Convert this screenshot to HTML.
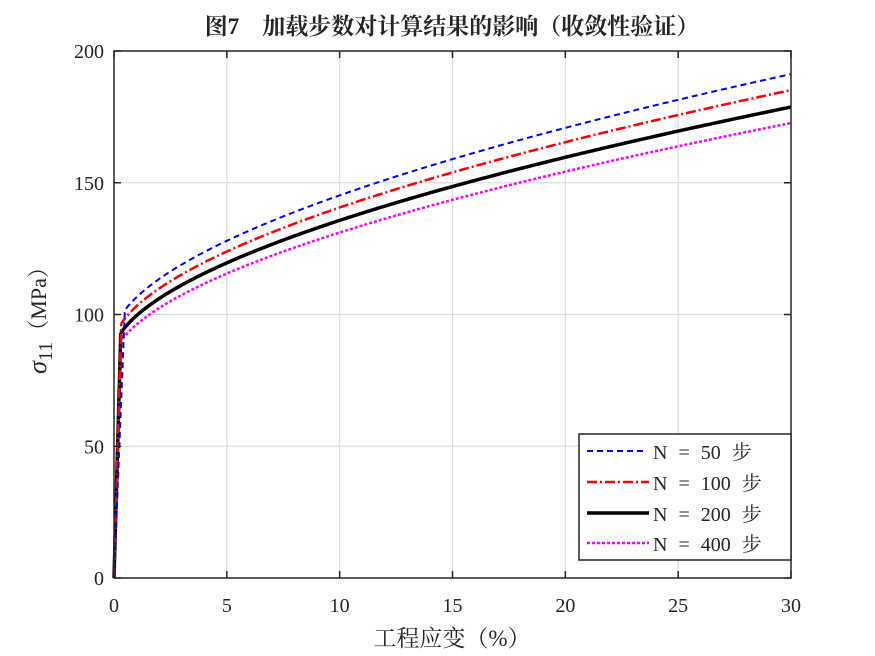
<!DOCTYPE html>
<html><head><meta charset="utf-8"><style>
html,body{margin:0;padding:0;background:#fff;}
svg{display:block;}
text{font-family:"Liberation Serif","Noto Serif CJK SC",serif;fill:#262626;}
</style></head><body>
<svg id="s" width="875" height="656" xmlns="http://www.w3.org/2000/svg">
<rect width="875" height="656" fill="#fff"/>
<g id="grid" stroke="#dcdcdc" stroke-width="1.2"></g>
<g id="curves" fill="none"></g>
<rect x="114" y="51" width="677" height="527" fill="none" stroke="#262626" stroke-width="1.5"/>
<g id="ticks" stroke="#262626" stroke-width="1.5"></g>
<g id="labels" font-size="20"></g>
<text x="452" y="34" text-anchor="middle" font-size="23" font-weight="bold" fill="#000">图7　加载步数对计算结果的影响（收敛性验证）</text>
<text x="452" y="646" text-anchor="middle" font-size="23" fill="#000">工程应变（%）</text>
<text transform="translate(46,315) rotate(-90)" text-anchor="middle" font-size="22" fill="#000"><tspan font-style="italic" font-size="26">σ</tspan><tspan font-size="20" dy="6">11</tspan><tspan dy="-6">（MPa）</tspan></text>
<g>
<rect x="579" y="434" width="212" height="126" fill="#fff" stroke="#262626" stroke-width="1.5"/>
<line x1="587" y1="451" x2="643" y2="451" stroke="#0000ff" stroke-width="2" stroke-dasharray="6,4"/>
<line x1="587" y1="482" x2="649" y2="482" stroke="#ff0000" stroke-width="2.5" stroke-dasharray="10,3,2,3"/>
<line x1="587" y1="513" x2="649" y2="513" stroke="#000" stroke-width="3.5"/>
<line x1="587" y1="543" x2="649" y2="543" stroke="#ff00ff" stroke-width="2.5" stroke-dasharray="3,2"/>
<g font-size="20" fill="#262626" style="word-spacing:6px">
<text x="653" y="459" xml:space="preserve">N = 50 步</text>
<text x="653" y="490" xml:space="preserve">N = 100 步</text>
<text x="653" y="521" xml:space="preserve">N = 200 步</text>
<text x="653" y="551" xml:space="preserve">N = 400 步</text>
</g></g>
</svg>
<script>
const X=e=>114+e*677/30, Y=s=>578-s*527/200;
const ns="http://www.w3.org/2000/svg";
function el(p,t,a){const e=document.createElementNS(ns,t);for(const k in a)e.setAttribute(k,a[k]);p.appendChild(e);return e;}
const g=document.getElementById('grid'),tk=document.getElementById('ticks'),lb=document.getElementById('labels');
for(let i=0;i<=30;i+=5){const x=X(i);if(i>0&&i<30)el(g,'line',{x1:x,y1:51,x2:x,y2:578});
el(tk,'line',{x1:x,y1:578,x2:x,y2:571});el(tk,'line',{x1:x,y1:51,x2:x,y2:58});
const t=el(lb,'text',{x:x,y:612,'text-anchor':'middle'});t.textContent=i;}
for(let s=0;s<=200;s+=50){const y=Y(s);if(s>0&&s<200)el(g,'line',{x1:114,y1:y,x2:791,y2:y});
el(tk,'line',{x1:114,y1:y,x2:121,y2:y});el(tk,'line',{x1:791,y1:y,x2:784,y2:y});
const t=el(lb,'text',{x:104,y:y+7,'text-anchor':'end'});t.textContent=s;}
const cv=document.getElementById('curves');
const base=e=>86.3+13.3*Math.pow(e,0.57);
function curve(f,e0,col,w,dash){let d=`M${X(0)},${Y(0)} L${X(e0)},${Y(base(e0)*f)}`;
for(let e=e0;e<=30.001;e+=0.1)d+=` L${X(e).toFixed(2)},${Y(base(e)*f).toFixed(2)}`;
const a={d:d,stroke:col,'stroke-width':w};if(dash)a['stroke-dasharray']=dash;el(cv,'path',a);}
curve(0.966,0.28,'#ff00ff',2.5,'3,2');
curve(1.0,0.3,'#000',3.5,null);
curve(1.036,0.32,'#ff0000',2.5,'10,3,2,3');
curve(1.07,0.48,'#0000ff',2,'6,4');
</script>
</body></html>
